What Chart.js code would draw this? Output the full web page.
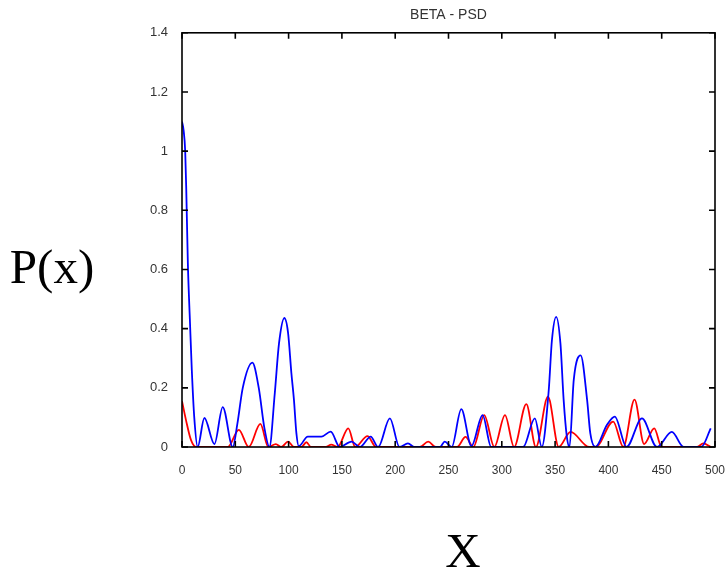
<!DOCTYPE html>
<html>
<head>
<meta charset="utf-8">
<title>BETA - PSD</title>
<script src="https://cdn.jsdelivr.net/npm/chart.js@4/dist/chart.umd.min.js"></script>
<style>
  body { margin: 0; background: #fff; }
  #wrap { position: relative; width: 728px; height: 576px; }
</style>
</head>
<body>
<div id="wrap"><canvas id="myChart"></canvas></div>
<script>
// blue trace (peaks and troughs)
var blueX = [0, 1.5, 3, 4, 5.5, 7.5, 9.2, 11.5, 14.7, 21, 30.4, 38.2, 47.6, 52, 57, 66, 72, 77.3, 82,
  87, 91, 96, 99.5, 102.6, 105, 107.3, 109.5, 118, 130.8, 139.5, 148, 159, 167, 177, 184, 195, 204,
  212, 218, 242, 246.5, 253, 262, 271.5, 282, 290, 320, 331, 337.5, 344, 347, 351, 355, 358, 361,
  363.5, 367.5, 374, 380, 383, 387.8, 398.7, 406, 417, 431.5, 445.5, 459.5, 470.5, 487, 496];
var blueY = [1.10, 1.07, 1.0, 0.87, 0.62, 0.42, 0.26, 0.10, 0.0, 0.098, 0.01, 0.135, 0.0, 0.08, 0.2, 0.285, 0.2, 0.064, 0.0,
  0.18, 0.35, 0.436, 0.386, 0.25, 0.16, 0.047, 0.003, 0.035, 0.035, 0.052, 0.0, 0.018, 0.0, 0.035, 0.0, 0.097, 0.0,
  0.012, 0.0, 0.0, 0.018, 0.0, 0.128, 0.003, 0.108, 0.0, 0.0, 0.097, 0.0, 0.19, 0.36, 0.44, 0.35, 0.16, 0.035,
  0.0, 0.227, 0.31, 0.16, 0.047, 0.0, 0.075, 0.103, 0.0, 0.097, 0.0, 0.051, 0.0, 0.0, 0.063];

// red trace
var redX = [0, 3.8, 8.4, 13, 43, 53.3, 62.6, 73.5, 81, 88, 93, 99.5, 105, 112, 116.7, 121, 135, 140, 146,
  156, 162.5, 174, 182, 223, 231, 238, 258, 266, 273.3, 283.5, 293, 303, 311.5, 323, 332, 343.3, 353.4,
  364.5, 382, 388, 404.5, 414, 424.5, 433.5, 443, 450, 483, 489, 496];
var redY = [0.155, 0.09, 0.024, 0.0, 0.0, 0.058, 0.0, 0.078, 0.0, 0.01, 0.0, 0.018, 0.0, 0.0, 0.016, 0.0, 0.0, 0.008, 0.0,
  0.063, 0.0, 0.037, 0.0, 0.0, 0.018, 0.0, 0.0, 0.034, 0.0, 0.108, 0.0, 0.108, 0.0, 0.145, 0.0, 0.17, 0.0,
  0.051, 0.0, 0.0, 0.086, 0.0, 0.16, 0.01, 0.063, 0.0, 0.0, 0.012, 0.0];

var xTicks = [0, 50, 100, 150, 200, 250, 300, 350, 400, 450, 500];
var yTicks = [0, 0.2, 0.4, 0.6, 0.8, 1, 1.2, 1.4];

function toPoints(xs, ys) {
  var pts = [];
  for (var i = 0; i < xs.length; i++) pts.push({x: xs[i], y: ys[i]});
  return pts;
}

// box round the plot with MATLAB style inward ticks, plus the big axis labels
var framePlugin = {
  id: 'frame',
  afterDatasetsDraw: function(chart) {
    var c = chart.ctx, a = chart.chartArea;
    var sx = chart.scales.x, sy = chart.scales.y;
    var tl = 6;
    c.save();
    c.strokeStyle = '#000';
    c.lineWidth = 1.6;
    c.strokeRect(a.left, a.top, a.right - a.left, a.bottom - a.top);
    c.beginPath();
    xTicks.forEach(function(v) {
      var px = sx.getPixelForValue(v);
      c.moveTo(px, a.bottom); c.lineTo(px, a.bottom - tl);
      c.moveTo(px, a.top); c.lineTo(px, a.top + tl);
    });
    yTicks.forEach(function(v) {
      var py = sy.getPixelForValue(v);
      c.moveTo(a.left, py); c.lineTo(a.left + tl, py);
      c.moveTo(a.right, py); c.lineTo(a.right - tl, py);
    });
    c.stroke();
    c.restore();
  },
  afterDraw: function(chart) {
    var c = chart.ctx;
    c.save();
    c.fillStyle = '#000';
    c.font = '49px "Liberation Serif", "DejaVu Serif", serif';
    c.textAlign = 'center';
    c.textBaseline = 'middle';
    c.fillText('P(x)', 52, 270);
    c.fillText('X', 463, 554);
    c.restore();
  }
};

var ctx = document.getElementById('myChart').getContext('2d');
var chart = new Chart(ctx, {
  type: 'line',
  data: {
    datasets: [{
      label: 'blue',
      data: toPoints(blueX, blueY),
      borderColor: '#0000ff',
      borderWidth: 1.8,
      pointRadius: 0,
      fill: false,
      cubicInterpolationMode: 'monotone'
    }, {
      label: 'red',
      data: toPoints(redX, redY),
      borderColor: '#ff0000',
      borderWidth: 1.8,
      pointRadius: 0,
      fill: false,
      cubicInterpolationMode: 'monotone'
    }]
  },
  options: {
    responsive: true,
    maintainAspectRatio: false,
    animation: false,
    layout: { padding: { left: 0, right: 13, top: 0, bottom: 0 } },
    plugins: {
      legend: { display: false },
      tooltip: { enabled: false },
      title: {
        display: true,
        fullSize: false,
        text: 'BETA - PSD',
        color: '#333',
        font: { family: '"Liberation Sans", Arial, sans-serif', size: 14, weight: 'normal' },
        padding: { top: 7, bottom: 9 }
      }
    },
    scales: {
      x: {
        type: 'linear',
        min: 0,
        max: 500,
        grid: { display: false },
        border: { display: false },
        ticks: {
          stepSize: 50,
          padding: 8,
          color: '#333',
          maxRotation: 0,
          font: { family: '"Liberation Sans", Arial, sans-serif', size: 12 }
        },
        afterFit: function(scale) {
          scale.height = 129;
          scale.paddingLeft = 0;
          scale.paddingRight = 0;
        }
      },
      y: {
        min: 0,
        max: 1.4,
        grid: { display: false },
        border: { display: false },
        ticks: {
          stepSize: 0.2,
          padding: 6,
          color: '#333',
          font: { family: '"Liberation Sans", Arial, sans-serif', size: 13 },
          callback: function(v) { return String(Number(v.toFixed(1))); }
        },
        afterFit: function(scale) { scale.width = 182; }
      }
    }
  },
  plugins: [framePlugin]
});
</script>
</body>
</html>
